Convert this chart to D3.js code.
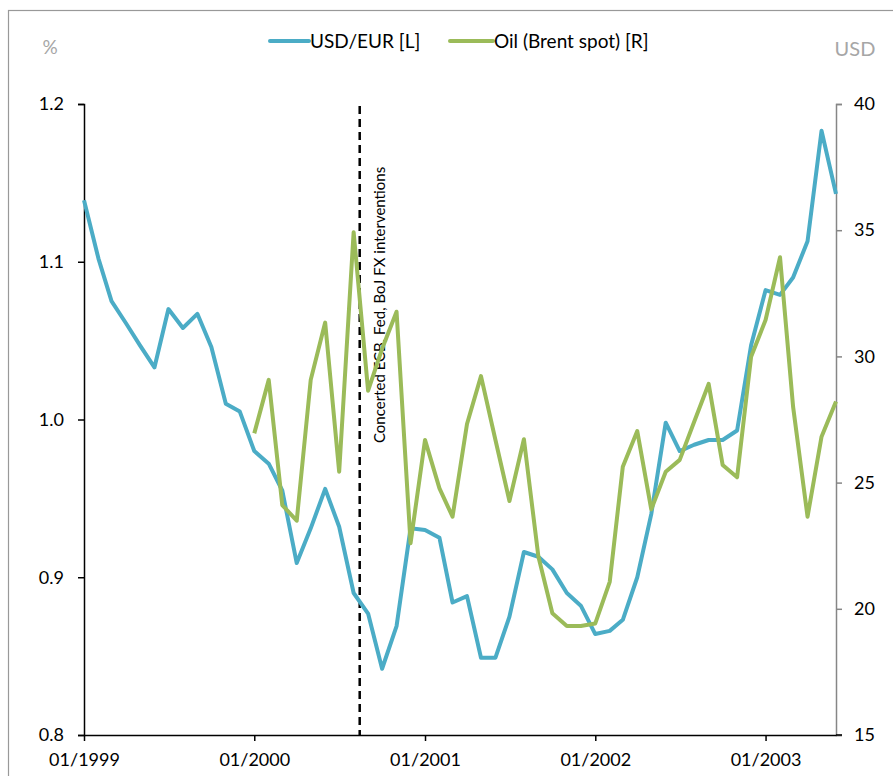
<!DOCTYPE html>
<html>
<head>
<meta charset="utf-8">
<script src="https://cdn.jsdelivr.net/npm/d3@7"></script>
<style>
  html, body { margin: 0; padding: 0; background: #fff; }
  svg { display: block; }
  text { font-family: Lato, "Open Sans", sans-serif; }
</style>
</head>
<body>
<svg id="chart" width="893" height="776"></svg>
<script>
// ---- data ----
const months = [
  "1999-01","1999-02","1999-03","1999-04","1999-05","1999-06","1999-07","1999-08","1999-09","1999-10","1999-11","1999-12",
  "2000-01","2000-02","2000-03","2000-04","2000-05","2000-06","2000-07","2000-08","2000-09","2000-10","2000-11","2000-12",
  "2001-01","2001-02","2001-03","2001-04","2001-05","2001-06","2001-07","2001-08","2001-09","2001-10","2001-11","2001-12",
  "2002-01","2002-02","2002-03","2002-04","2002-05","2002-06","2002-07","2002-08","2002-09","2002-10","2002-11","2002-12",
  "2003-01","2003-02","2003-03","2003-04","2003-05","2003-06"
];
const usdEur = [
  1.139, 1.102, 1.075, 1.061, 1.047, 1.033, 1.070, 1.058, 1.067, 1.046, 1.010, 1.005,
  0.980, 0.972, 0.955, 0.909, 0.931, 0.956, 0.932, 0.890, 0.877, 0.842, 0.869, 0.931,
  0.930, 0.925, 0.884, 0.888, 0.849, 0.849, 0.875, 0.916, 0.913, 0.905, 0.890, 0.882,
  0.864, 0.866, 0.873, 0.900, 0.940, 0.998, 0.980, 0.984, 0.987, 0.987, 0.993, 1.047,
  1.082, 1.079, 1.090, 1.113, 1.183, 1.143
];
const oil = [
  null, null, null, null, null, null, null, null, null, null, null, null,
  26.95, 29.07, 24.11, 23.49, 29.07, 31.34, 25.43, 34.92, 28.64, 30.30, 31.77, 22.60,
  26.69, 24.77, 23.65, 27.32, 29.22, 26.69, 24.27, 26.72, 22.07, 19.82, 19.32, 19.32,
  19.42, 21.07, 25.63, 27.04, 23.94, 25.43, 25.90, 27.41, 28.91, 25.70, 25.21, 29.99,
  31.44, 33.93, 28.01, 23.65, 26.82, 28.21
];
const leftTicks = [0.8, 0.9, 1.0, 1.1, 1.2];
const rightTicks = [15, 20, 25, 30, 35, 40];
const xTickLabels = ["01/1999", "01/2000", "01/2001", "01/2002", "01/2003"];
const seriesNames = ["USD/EUR [L]", "Oil (Brent spot) [R]"];
const leftUnit = "%";
const rightUnit = "USD";
const annotationDate = "2000-08-14";
const annotationText = "Concerted ECB, Fed, BoJ FX interventions";

// ---- layout ----
const svg = d3.select("#chart");
const L = 84, R = 836, T = 104, B = 735;
const parse = d3.timeParse("%Y-%m");
const dates = months.map(parse);
const BLUE = "#4BACC6", GREEN = "#9BBB59";

const x = d3.scaleTime().domain([dates[0], dates[dates.length - 1]]).range([L, R]);
const yL = d3.scaleLinear().domain([0.8, 1.2]).range([B, T]);
const yR = d3.scaleLinear().domain([15, 40]).range([B, T]);

// outer frame
svg.append("rect").attr("x", 8.5).attr("y", 10.5).attr("width", 900).attr("height", 800)
  .attr("fill", "none").attr("stroke", "#999").attr("stroke-width", 1.2);

// axes
const fs = 18;
const gL = svg.append("g").attr("transform", `translate(${L},0)`)
  .call(d3.axisLeft(yL).tickValues(leftTicks).tickFormat(d3.format(".1f")).tickSize(6).tickPadding(14));
gL.select(".domain").attr("stroke", "#000").attr("stroke-width", 1.5);
gL.selectAll(".tick line").attr("stroke", "#000").attr("stroke-width", 1.5);
gL.selectAll("text").attr("font-size", fs).attr("fill", "#000");

const gR = svg.append("g").attr("transform", `translate(${R},0)`)
  .call(d3.axisRight(yR).tickValues(rightTicks).tickSize(6).tickPadding(12));
gR.select(".domain").attr("stroke", "#868686").attr("stroke-width", 1.5);
gR.selectAll(".tick line").attr("stroke", "#868686").attr("stroke-width", 1.5);
gR.selectAll("text").attr("font-size", fs).attr("fill", "#000");

const xTickDates = xTickLabels.map(d3.timeParse("%m/%Y"));
const gX = svg.append("g").attr("transform", `translate(0,${B})`)
  .call(d3.axisBottom(x).tickValues(xTickDates).tickFormat((d, i) => xTickLabels[i]).tickSize(6).tickSizeOuter(0).tickPadding(12));
gX.select(".domain").attr("stroke", "#000").attr("stroke-width", 1.5);
gX.selectAll(".tick line").attr("stroke", "#000").attr("stroke-width", 1.5);
gX.selectAll("text").attr("font-size", fs).attr("fill", "#000");
// extend x axis line slightly past right axis
svg.append("line").attr("x1", R).attr("x2", R + 6).attr("y1", B).attr("y2", B)
  .attr("stroke", "#000").attr("stroke-width", 1.5);

// unit labels
svg.append("text").attr("x", 50).attr("y", 54).attr("text-anchor", "middle")
  .attr("font-size", 19).attr("fill", "#a6a6a6").text(leftUnit);
svg.append("text").attr("x", 855).attr("y", 56).attr("text-anchor", "middle")
  .attr("font-size", 20).attr("fill", "#a6a6a6").text(rightUnit);

// annotation line
const ax = x(d3.timeParse("%Y-%m-%d")(annotationDate));
svg.append("line").attr("x1", ax).attr("x2", ax).attr("y1", 106).attr("y2", B)
  .attr("stroke", "#000").attr("stroke-width", 2.5).attr("stroke-dasharray", "8,5");
svg.append("text")
  .attr("transform", `translate(${ax + 25},443) rotate(-90)`)
  .attr("font-size", 15).attr("fill", "#000").text(annotationText);

// lines
const lineL = d3.line().defined(d => d[1] != null).x(d => x(d[0])).y(d => yL(d[1]));
const lineR = d3.line().defined(d => d[1] != null).x(d => x(d[0])).y(d => yR(d[1]));
svg.append("path").datum(dates.map((d, i) => [d, usdEur[i]]))
  .attr("d", lineL).attr("fill", "none").attr("stroke", BLUE).attr("stroke-width", 4)
  .attr("stroke-linejoin", "round");
svg.append("path").datum(dates.map((d, i) => [d, oil[i]]))
  .attr("d", lineR).attr("fill", "none").attr("stroke", GREEN).attr("stroke-width", 4)
  .attr("stroke-linejoin", "round");

// legend
const lg = svg.append("g");
const legendItems = [
  { name: seriesNames[0], color: BLUE, x1: 270, x2: 309, tx: 310 },
  { name: seriesNames[1], color: GREEN, x1: 450, x2: 493, tx: 494 }
];
legendItems.forEach(it => {
  lg.append("line").attr("x1", it.x1).attr("x2", it.x2).attr("y1", 41).attr("y2", 41)
    .attr("stroke", it.color).attr("stroke-width", 4).attr("stroke-linecap", "round");
  lg.append("text").attr("x", it.tx).attr("y", 48).attr("font-size", 19).attr("fill", "#000").text(it.name);
});
</script>
</body>
</html>
